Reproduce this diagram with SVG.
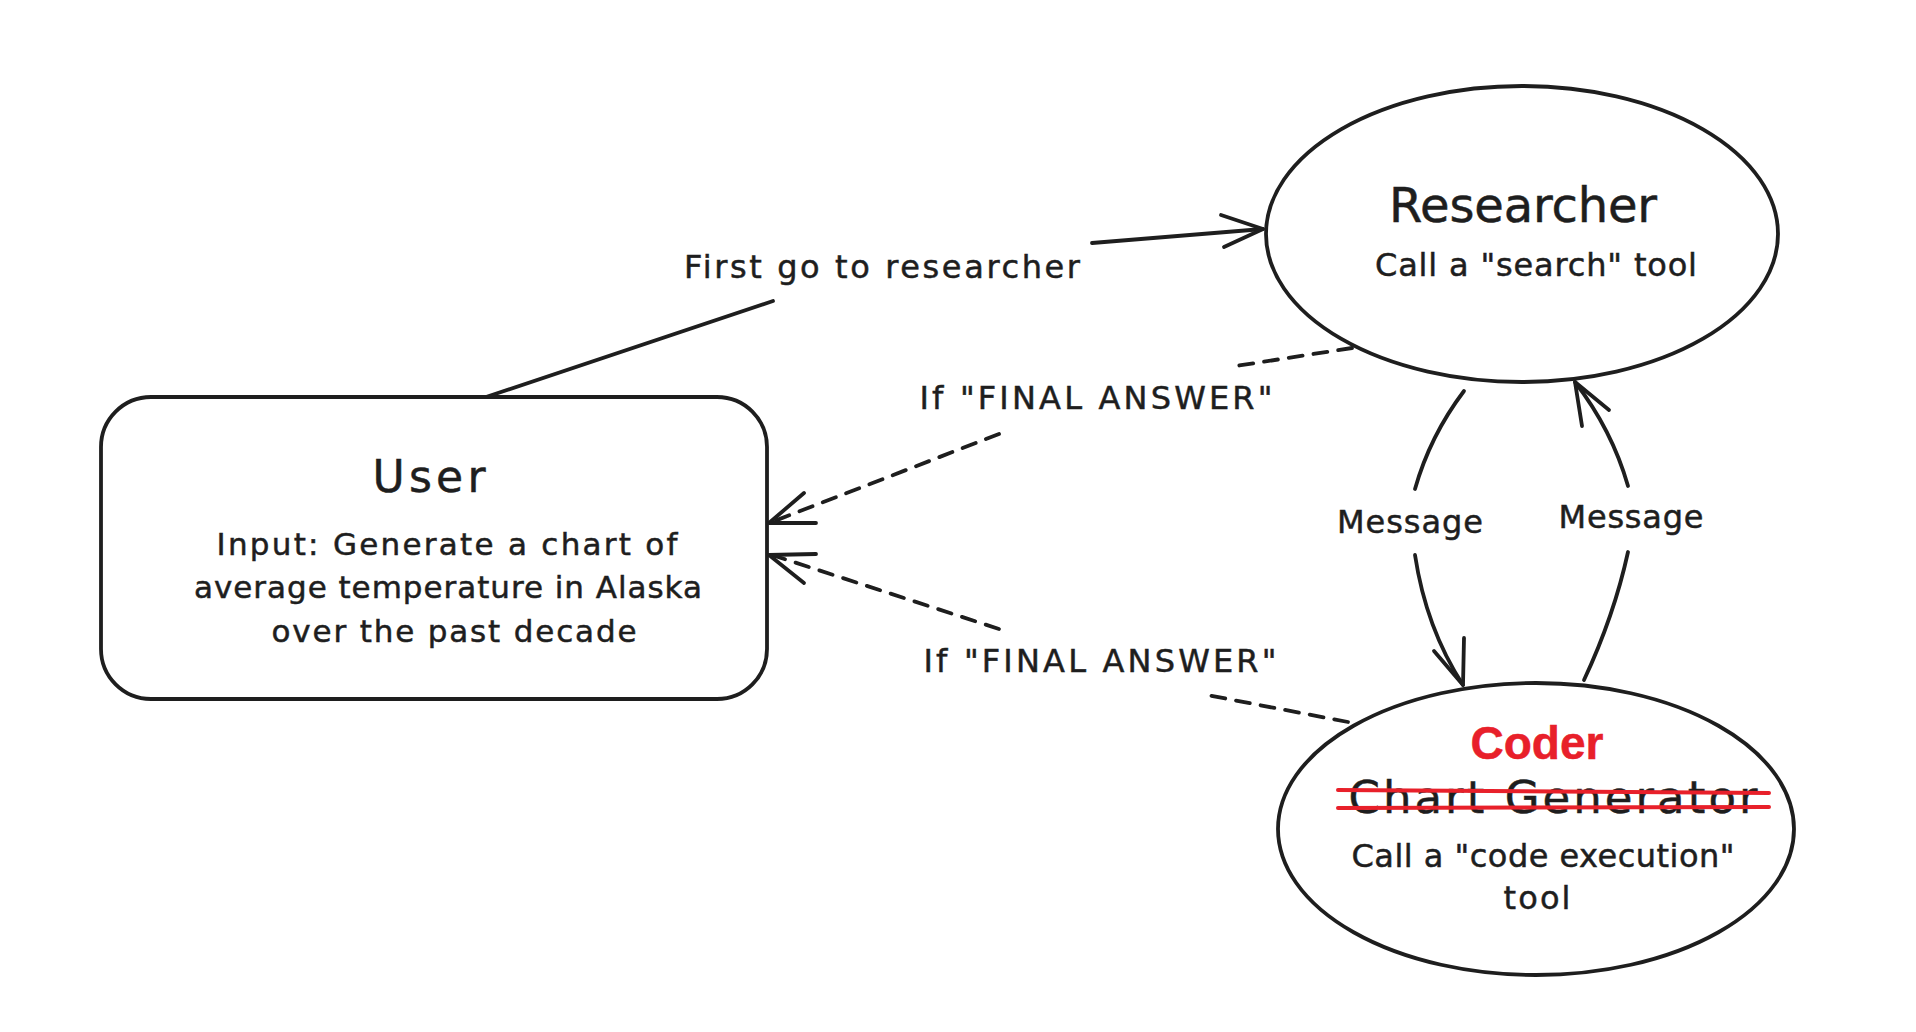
<svg xmlns="http://www.w3.org/2000/svg" width="1916" height="1032" viewBox="0 0 1916 1032">
<style>
.shape{fill:#ffffff;stroke:#1e1e1e;stroke-width:3.8}
.line{fill:none;stroke:#1e1e1e;stroke-width:3.8;stroke-linecap:round;stroke-linejoin:round}
.dash{fill:none;stroke:#1e1e1e;stroke-width:3.8;stroke-dasharray:14 11;stroke-linecap:round}
.head{fill:none;stroke:#1e1e1e;stroke-width:3.8;stroke-linecap:round;stroke-linejoin:round}
.t{font-family:"DejaVu Sans","Liberation Sans",sans-serif;fill:#1e1e1e;stroke:#1e1e1e;stroke-width:0.5;text-anchor:middle}
.lbl{font-size:32px}
.red{font-family:"Liberation Sans",Arial,sans-serif;font-weight:bold;fill:#e8202a;stroke:#e8202a;stroke-width:0.5;text-anchor:middle}
.strike{stroke:#e8202a;stroke-width:4;stroke-linecap:round}
</style>
<rect width="1916" height="1032" fill="#ffffff"/>
<g id="connectors">
  <!-- User -> Researcher -->
  <path class="line" d="M486,397 L773,301"/>
  <path class="line" d="M1092,243 L1263,229"/>
  <path class="head" d="M1221,215 L1263,229 L1224,247"/>
  <text class="t lbl" x="882" y="278" textLength="396">First go to researcher</text>
  <!-- Researcher -> User (dashed) -->
  <path class="dash" d="M1352,348 L1236,366"/>
  <path class="dash" d="M999,434 L772,522"/>
  <path class="head" d="M804,493 L769,523 L816,523"/>
  <text class="t lbl" x="1096" y="409" textLength="353">If "FINAL ANSWER"</text>
  <!-- Coder -> User (dashed) -->
  <path class="dash" d="M1348,722 L1207,695"/>
  <path class="dash" d="M999,629 L772,555"/>
  <path class="head" d="M816,554 L769,555 L804,583"/>
  <text class="t lbl" x="1100" y="672" textLength="353">If "FINAL ANSWER"</text>
  <!-- Researcher -> Coder -->
  <path class="line" d="M1464,391 Q1430,436 1415,489"/>
  <path class="line" d="M1415,555 Q1426,628 1463,685"/>
  <path class="head" d="M1434,651 L1463,685 L1464,638"/>
  <text class="t lbl" x="1410" y="533" textLength="146">Message</text>
  <!-- Coder -> Researcher -->
  <path class="line" d="M1584,680 Q1614,616 1628,552"/>
  <path class="line" d="M1628,486 Q1612,430 1575,382"/>
  <path class="head" d="M1582,426 L1575,382 L1609,410"/>
  <text class="t lbl" x="1631" y="528" textLength="145">Message</text>
</g>
<g id="user">
  <rect class="shape" x="101" y="397" width="666" height="302" rx="50" ry="50"/>
  <text class="t" x="429" y="492" font-size="44" textLength="113">User</text>
  <text class="t" x="447" y="555" font-size="31" textLength="461">Input: Generate a chart of</text>
  <text class="t" x="448" y="598" font-size="31" textLength="508">average temperature in Alaska</text>
  <text class="t" x="454" y="642" font-size="31" textLength="365">over the past decade</text>
</g>
<g id="researcher">
  <ellipse class="shape" cx="1522" cy="234" rx="256" ry="148"/>
  <text class="t" x="1523" y="222" font-size="48" textLength="268">Researcher</text>
  <text class="t" x="1536" y="276" font-size="32" textLength="322">Call a "search" tool</text>
</g>
<g id="coder">
  <ellipse class="shape" cx="1536" cy="829" rx="258" ry="146"/>
  <text class="red" x="1537" y="759" font-size="46">Coder</text>
  <text class="t" x="1553" y="813" font-size="45" textLength="409">Chart Generator</text>
  <line class="strike" x1="1338" y1="790" x2="1769" y2="793"/>
  <line class="strike" x1="1338" y1="808" x2="1769" y2="807"/>
  <text class="t" x="1543" y="867" font-size="32" textLength="383">Call a "code execution"</text>
  <text class="t" x="1537" y="909" font-size="32" textLength="67">tool</text>
</g>
</svg>
